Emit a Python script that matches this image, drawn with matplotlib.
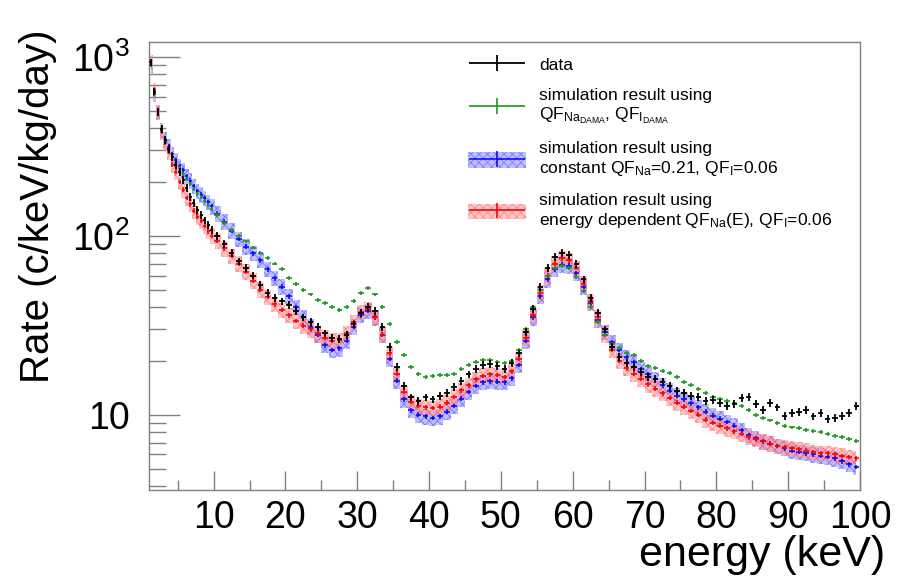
import matplotlib
matplotlib.use("Agg")
import numpy as np
import matplotlib.pyplot as plt
from matplotlib.patches import Patch
from matplotlib.legend_handler import HandlerErrorbar
from matplotlib.ticker import LogLocator, MultipleLocator, FixedLocator, FixedFormatter, NullFormatter

plt.rcParams['font.family'] = ['Liberation Sans', 'DejaVu Sans']
plt.rcParams['mathtext.fontset'] = 'custom'
plt.rcParams['mathtext.rm'] = 'Liberation Sans'
plt.rcParams['mathtext.it'] = 'Liberation Sans:italic'
plt.rcParams['hatch.linewidth'] = 0.6

# bin centres (keV): 0.5 keV bins below 10 keV, 1 keV bins above
energy = np.concatenate([np.arange(1.25, 10.0, 0.5), np.arange(10.5, 100.0, 1.0)])

# measured spectrum
data = [930, 640, 490, 395, 345, 305, 275, 250, 228, 205,
        185, 165, 152, 140, 131, 122, 115, 108,
        100, 90, 80, 72, 66, 60, 53, 48, 45, 43,
        41, 38, 35, 33, 31, 28.5, 27, 26.5, 28, 32,
        37, 40, 38, 31, 24, 18.5, 14.5, 12.5, 12.0, 12.5,
        12.2, 12.8, 13.2, 14.3, 15.5, 16.8, 18, 19, 19.2, 18.7,
        18, 19.5, 22, 29, 39, 52, 66, 76, 80, 78,
        70, 57, 45, 37, 30, 24, 21, 19.5, 18.5, 17.3,
        16.3, 15.8, 15.2, 14.5, 13.6, 13.2, 12.8, 12.6, 12.0, 12.1,
        11.6, 11.2, 11.5, 12.4, 12.6, 11.5, 10.6, 11.6, 11.0, 9.9,
        10.2, 10.4, 10.6, 9.8, 10.2, 9.5, 9.6, 9.9, 10.2, 11.2]

# simulation, QF from DAMA
sim_dama = [900, 620, 480, 390, 335, 300, 275, 255, 238, 222,
            207, 195, 183, 172, 164, 156, 148, 141,
            130, 118, 108, 100, 93, 86, 80, 75, 70, 65,
            58, 54, 50, 47, 44, 42, 40, 38.5, 40, 43,
            48, 51, 47, 40, 32, 25.5, 21.5, 18.5, 17, 16.3,
            16.5, 16.6, 16.7, 17.0, 18.0, 19.0, 19.8, 20.3, 20.3, 19.8,
            19.5, 20.0, 23, 30, 40, 50, 60, 66, 68, 66,
            59, 49, 40, 33, 28, 25, 23.5, 22.2, 21.5, 20,
            18.8, 18.2, 17.6, 17.2, 16.2, 15.3, 14.7, 14.0, 13.3, 12.6,
            12.3, 12.0, 11.7, 11.2, 10.6, 10.0, 9.6, 9.3, 9.0, 8.7,
            8.5, 8.4, 8.2, 8.1, 8.0, 7.8, 7.6, 7.5, 7.3, 7.1]

# simulation, constant QF_Na = 0.21
sim_const = [900, 620, 490, 390, 345, 315, 285, 265, 245, 232,
             215, 203, 190, 178, 170, 162, 154, 146,
             133, 120, 107, 96, 87, 80, 73, 65, 58, 52,
             46, 40, 35, 31, 28, 24.5, 23, 23.5, 26, 31,
             36, 38, 35, 28, 20.5, 15.5, 12.2, 10.6, 10.0, 9.8,
             9.6, 9.8, 10.4, 11.2, 12.3, 13.4, 14.5, 15.2, 15.4, 15.3,
             15.2, 16, 19, 26, 35, 46, 57, 65, 69, 68,
             62, 52, 42, 34, 29, 25.5, 23, 21, 19.6, 18,
             16.8, 15.8, 14.6, 13.6, 12.8, 12.2, 11.6, 11.0, 10.4, 9.9,
             9.5, 9.1, 8.7, 8.2, 7.7, 7.4, 7.1, 6.9, 6.7, 6.5,
             6.3, 6.2, 6.1, 6.0, 5.9, 5.8, 5.7, 5.5, 5.3, 5.1]

# simulation, energy dependent QF_Na(E)
sim_edep = [930, 650, 490, 380, 330, 295, 250, 228, 200, 181,
            163, 150, 138, 128, 121, 114, 106, 100,
            94, 85, 77, 70, 63, 56, 50, 45.5, 41.5, 38.5,
            36, 33.5, 31.5, 30, 28.5, 27, 26, 26.2, 28.5, 33,
            37.5, 39, 35, 28, 22, 17, 13.4, 11.8, 11.2, 11,
            10.9, 11.1, 11.7, 12.6, 13.7, 14.6, 15.8, 16.5, 16.8, 16.7,
            16.3, 17.5, 20.5, 27, 36, 48, 60, 70, 75, 73,
            66, 54, 43, 35, 28, 23, 20, 18.2, 17, 15.9,
            14.8, 14.0, 13.2, 12.4, 11.7, 11.1, 10.5, 10.0, 9.4, 9.0,
            8.7, 8.4, 8.1, 7.8, 7.5, 7.3, 7.1, 6.9, 6.7, 6.6,
            6.5, 6.4, 6.3, 6.2, 6.1, 6.1, 6.0, 5.9, 5.8, 5.7]

data = np.array(data)
sim_dama = np.array(sim_dama)
sim_const = np.array(sim_const)
sim_edep = np.array(sim_edep)
xerr = np.where(energy < 10, 0.2, 0.38)

fig = plt.figure(figsize=(8.97, 5.81), dpi=100)
ax = fig.add_axes([149/897, 1-490/581, 711/897, 448/581])

blue_band = (0.55, 0.55, 1.0, 0.55)
red_band = (1.0, 0.6, 0.6, 0.55)

# bands
ax.fill_between(energy, sim_const*0.9, sim_const*1.1, step='mid',
                facecolor=blue_band, edgecolor=(0.3, 0.3, 1.0, 0.6), hatch='xxxx',
                linewidth=0, zorder=1)
ax.fill_between(energy, sim_edep*0.9, sim_edep*1.1, step='mid',
                facecolor=red_band, edgecolor=(1.0, 0.35, 0.35, 0.6), hatch='xxxx',
                linewidth=0, zorder=2)

eb_const = ax.errorbar(energy, sim_const, xerr=xerr, yerr=sim_const*0.03, fmt='none',
                       ecolor='blue', elinewidth=1.1, zorder=3)
eb_edep = ax.errorbar(energy, sim_edep, xerr=xerr, yerr=sim_edep*0.03, fmt='none',
                      ecolor='red', elinewidth=1.2, zorder=4)
eb_dama = ax.errorbar(energy, sim_dama, xerr=xerr, yerr=sim_dama*0.025, fmt='none',
                      ecolor='#1a9a1a', elinewidth=1.2, zorder=5)
eb_data = ax.errorbar(energy, data, xerr=xerr, yerr=data*0.05, fmt='none',
                      ecolor='black', elinewidth=1.3, zorder=6)

ax.set_yscale('log')
ax.set_xlim(1, 100)
ax.set_ylim(3.8, 1210)

for s in ax.spines.values():
    s.set_color('0.5')
    s.set_linewidth(1.0)

ax.xaxis.set_major_locator(MultipleLocator(10))
ax.xaxis.set_minor_locator(MultipleLocator(5))
ax.yaxis.set_major_locator(FixedLocator([10, 100, 1000]))
ax.yaxis.set_major_formatter(FixedFormatter(['10', r'$10^{2}$', r'$10^{3}$']))
ax.yaxis.set_minor_locator(LogLocator(base=10, subs=np.arange(2, 10)))
ax.yaxis.set_minor_formatter(NullFormatter())
ax.tick_params(axis='x', which='major', direction='in', length=14, width=1, color='0.5',
               labelsize=27, pad=7)
ax.tick_params(axis='x', which='minor', direction='in', length=7, width=1, color='0.5')
ax.tick_params(axis='y', which='major', direction='in', length=22, width=1, color='0.5',
               labelsize=27, pad=14)
ax.tick_params(axis='y', which='minor', direction='in', length=12, width=1, color='0.5')

ax.set_xlabel('energy (keV)', fontsize=31, loc='right')
ax.xaxis.set_label_coords(1.035, -0.1)
ax.set_ylabel('Rate (c/keV/kg/day)', fontsize=29, loc='top')
ax.yaxis.set_label_coords(-0.13, 1.027)

handles = [eb_data, eb_dama,
           (Patch(facecolor=blue_band, edgecolor=(0.3, 0.3, 1.0, 0.6), hatch='xxxx', linewidth=0), eb_const),
           (Patch(facecolor=red_band, edgecolor=(1.0, 0.35, 0.35, 0.6), hatch='xxxx', linewidth=0), eb_edep)]
labels = ['data',
          'simulation result using\n' + r'QF$_{\mathrm{Na}_{\mathrm{DAMA}}}$, QF$_{\mathrm{I}_{\mathrm{DAMA}}}$',
          'simulation result using\n' + r'constant QF$_{\mathrm{Na}}$=0.21, QF$_{\mathrm{I}}$=0.06',
          'simulation result using\n' + r'energy dependent QF$_{\mathrm{Na}}$(E), QF$_{\mathrm{I}}$=0.06']
hm = {eb_data: HandlerErrorbar(xerr_size=1.6, yerr_size=0.45),
      eb_dama: HandlerErrorbar(xerr_size=1.6, yerr_size=0.45),
      eb_const: HandlerErrorbar(xerr_size=1.6, yerr_size=0.45),
      eb_edep: HandlerErrorbar(xerr_size=1.6, yerr_size=0.45)}
ax.legend(handles, labels, handler_map=hm, loc='upper left', bbox_to_anchor=(0.4487, 0.968),
          frameon=False, fontsize=12.6, handlelength=3.3, handleheight=1.0, handletextpad=0.75,
          labelspacing=0.85, borderpad=0, borderaxespad=0)

fig.savefig('out.png', dpi=100)
